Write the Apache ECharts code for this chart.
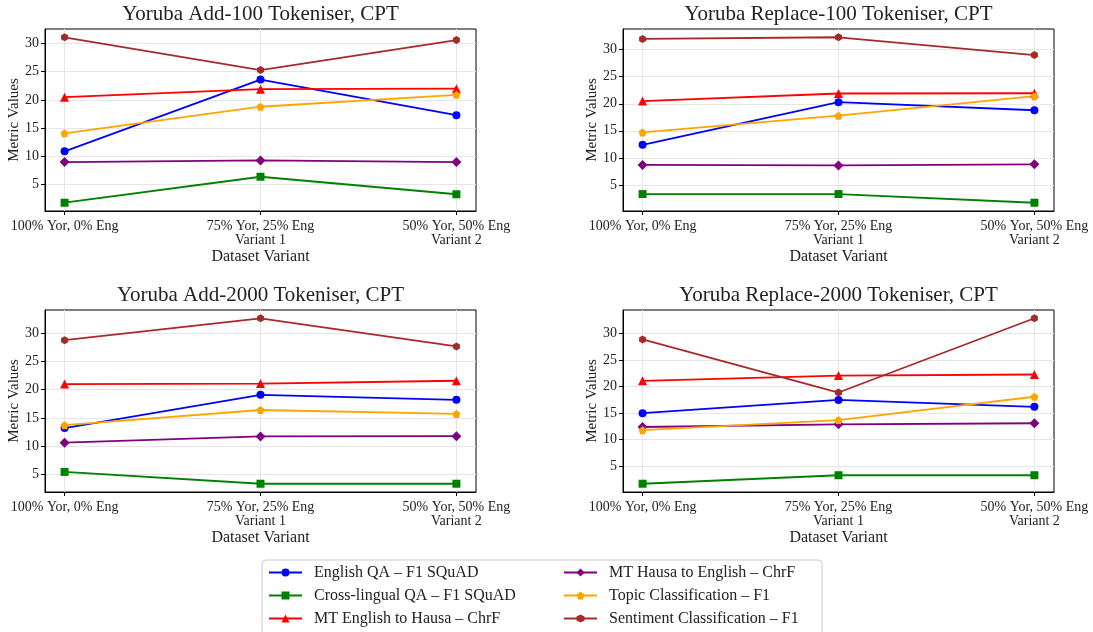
<!DOCTYPE html>
<html><head><meta charset="utf-8">
<script src="https://cdn.jsdelivr.net/npm/echarts@6/dist/echarts.min.js"></script>
<style>html,body{margin:0;padding:0;background:#fff}#c{width:1093px;height:632px}</style>
</head><body><div id="c"></div>
<script>
const categories = ['100% Yor, 0% Eng', '75% Yor, 25% Eng\nVariant 1', '50% Yor, 50% Eng\nVariant 2'];
const seriesNames = ['English QA – F1 SQuAD', 'Cross-lingual QA – F1 SQuAD', 'MT English to Hausa – ChrF',
  'MT Hausa to English – ChrF', 'Topic Classification – F1', 'Sentiment Classification – F1'];
const panelTitles = ['Yoruba Add-100 Tokeniser, CPT', 'Yoruba Replace-100 Tokeniser, CPT',
  'Yoruba Add-2000 Tokeniser, CPT', 'Yoruba Replace-2000 Tokeniser, CPT'];
const yTicks = [5, 10, 15, 20, 25, 30];
// values per panel, in seriesNames order
const add100 = [[10.9, 23.6, 17.3], [1.8, 6.4, 3.3], [20.5, 21.9, 22.0], [9.0, 9.3, 9.0], [14.1, 18.8, 20.9], [31.1, 25.3, 30.6]];
const replace100 = [[12.4, 20.3, 18.8], [3.3, 3.3, 1.7], [20.5, 21.9, 21.95], [8.7, 8.6, 8.8], [14.7, 17.8, 21.4], [32.0, 32.3, 29.0]];
const add2000 = [[13.2, 19.1, 18.2], [5.4, 3.3, 3.3], [21.0, 21.1, 21.6], [10.6, 11.7, 11.75], [13.7, 16.4, 15.7], [28.8, 32.7, 27.7]];
const replace2000 = [[15.0, 17.5, 16.2], [1.7, 3.3, 3.3], [21.1, 22.1, 22.3], [12.4, 12.9, 13.1], [11.8, 13.7, 18.1], [28.9, 18.9, 32.9]];
const panels = [add100, replace100, add2000, replace2000];

const colors = ['#0000ff', '#008000', '#ff0000', '#800080', '#ffa500', '#a52a2a'];
const pentagon = 'path://M0,-1L0.951,-0.309L0.588,0.809L-0.588,0.809L-0.951,-0.309Z';
const hexagon = 'path://M0,-1L0.866,-0.5L0.866,0.5L0,1L-0.866,0.5L-0.866,-0.5Z';
const diamond = 'path://M0,-1L1,0L0,1L-1,0Z';
const symbols = ['circle', 'rect', 'triangle', diamond, pentagon, hexagon];
const symSizes = [8, 8, 9, 10, 8, [7, 8]];

const FONT = 'Liberation Serif';
const gridPos = [
  {left: 45, top: 29}, {left: 623, top: 29}, {left: 45, top: 310}, {left: 623, top: 310}
];
const GW = 431, GH = 182;

const grids = [], xAxes = [], yAxes = [], series = [], graphics = [];
panels.forEach((vals, p) => {
  grids.push({left: gridPos[p].left, top: gridPos[p].top, width: GW, height: GH,
    show: true, borderColor: '#000', borderWidth: 1, backgroundColor: 'transparent'});
  const all = vals.flat();
  const dmin = Math.min(...all), dmax = Math.max(...all), pad = 0.05 * (dmax - dmin);
  xAxes.push({type: 'value', gridIndex: p, min: -0.1, max: 2.1,
    name: 'Dataset Variant', nameLocation: 'middle', nameGap: 36,
    nameTextStyle: {fontFamily: FONT, fontSize: 16, color: '#222'},
    axisLine: {show: true, onZero: false, lineStyle: {color: '#000', width: 1}},
    axisTick: {show: true, length: 4, lineStyle: {color: '#000'}, customValues: [0, 1, 2]},
    axisLabel: {customValues: [0, 1, 2], formatter: v => categories[Math.round(v)],
      fontFamily: FONT, fontSize: 14, color: '#222', margin: 8, lineHeight: 14.5},
    splitLine: {show: true, lineStyle: {color: '#e6e6e6', width: 1}}
  });
  yAxes.push({type: 'value', gridIndex: p, min: dmin - pad, max: dmax + pad,
    name: 'Metric Values', nameLocation: 'middle', nameGap: 18,
    nameTextStyle: {fontFamily: FONT, fontSize: 15, color: '#222'},
    axisLine: {show: true, onZero: false, lineStyle: {color: '#000', width: 1}},
    axisTick: {show: true, length: 4, lineStyle: {color: '#000'}, customValues: yTicks},
    axisLabel: {customValues: yTicks, fontFamily: FONT, fontSize: 14, color: '#222', margin: 6},
    splitLine: {show: true, lineStyle: {color: '#e6e6e6', width: 1}}
  });
  vals.forEach((arr, s) => {
    series.push({type: 'line', name: seriesNames[s], xAxisIndex: p, yAxisIndex: p,
      data: arr.map((v, i) => [i, v]), symbol: symbols[s], symbolSize: symSizes[s],
      showAllSymbol: true, animation: false,
      lineStyle: {color: colors[s], width: 1.8}, itemStyle: {color: colors[s]}});
  });
  graphics.push({type: 'text', x: gridPos[p].left + GW / 2, y: gridPos[p].top - 4,
    style: {text: panelTitles[p], font: '21px "' + FONT + '"', fill: '#222',
      textAlign: 'center', textVerticalAlign: 'bottom'}});
});
graphics.unshift({type: 'rect', shape: {x: 262, y: 560, width: 560, height: 80, r: 4},
  style: {fill: '#fff', stroke: '#cccccc', lineWidth: 1}, z: -1});

const legendCommon = {orient: 'vertical', itemWidth: 33, itemHeight: 10, itemGap: 7, height: 70,
  padding: 0, textStyle: {fontFamily: FONT, fontSize: 16, lineHeight: 16, color: '#222', padding: [0, 0, 0, 7]}};
const option = {
  animation: false,
  grid: grids, xAxis: xAxes, yAxis: yAxes, series: series,
  graphic: graphics,
  legend: [
    Object.assign({left: 268, top: 564.5, data: seriesNames.slice(0, 3)}, legendCommon),
    Object.assign({left: 563, top: 564.5, data: seriesNames.slice(3, 6)}, legendCommon)
  ]
};
const chart = echarts.init(document.getElementById('c'), null, {renderer: 'canvas'});
chart.setOption(option);
</script></body></html>
